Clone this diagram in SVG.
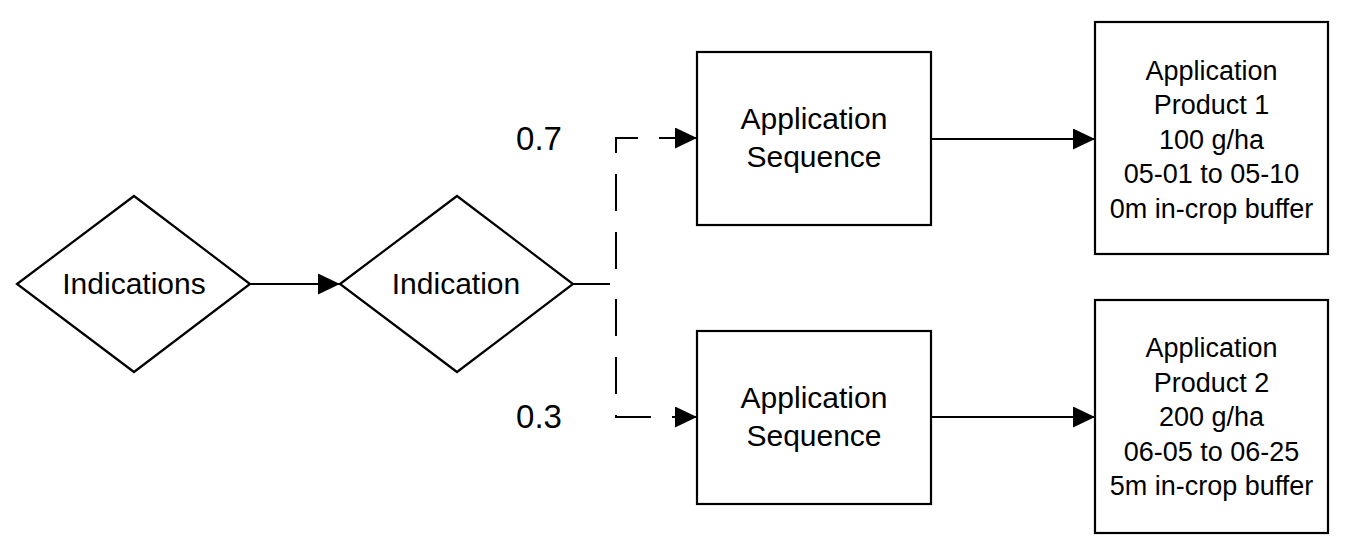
<svg xmlns="http://www.w3.org/2000/svg" width="1351" height="558" viewBox="0 0 1351 558">
  <style>
    .shape { fill: #ffffff; stroke: #000000; stroke-width: 2.2; }
    .line { fill: none; stroke: #000000; stroke-width: 2; }
    .dash { fill: none; stroke: #000000; stroke-width: 2; stroke-dasharray: 37 21; }
    text { font-family: "Liberation Sans", Arial, sans-serif; fill: #000000; text-anchor: middle; }
    .t30 { font-size: 30px; }
    .t27 { font-size: 27px; }
    .t33 { font-size: 33px; }
  </style>
  <defs>
    <marker id="arrow" markerUnits="userSpaceOnUse" markerWidth="22" markerHeight="22" refX="22" refY="10.5" orient="auto">
      <path d="M0,0 L22,10.5 L0,21 Z" fill="#000000"/>
    </marker>
  </defs>
  <rect width="1351" height="558" fill="#ffffff"/>

  <g id="connectors">
    <path class="line" d="M250,284 L340,284" marker-end="url(#arrow)"/>
    <path class="dash" d="M573,284 L616,284 L616,138 L697,138" marker-end="url(#arrow)"/>
    <path class="dash" d="M573,284 L616,284 L616,417 L697,417" marker-end="url(#arrow)"/>
    <path class="line" d="M931,139 L1095,139" marker-end="url(#arrow)"/>
    <path class="line" d="M931,417 L1095,417" marker-end="url(#arrow)"/>
  </g>

  <g id="label-07"><text class="t33" x="539" y="150">0.7</text></g>
  <g id="label-03"><text class="t33" x="539" y="428">0.3</text></g>

  <g id="indications">
    <polygon class="shape" points="17,284 134,196 250,284 134,372"/>
    <text class="t30" x="134" y="294">Indications</text>
  </g>

  <g id="indication">
    <polygon class="shape" points="340,284 457,196 573,284 457,372"/>
    <text class="t30" x="456" y="294">Indication</text>
  </g>

  <g id="sequence1">
    <rect class="shape" x="697" y="52" width="234" height="173"/>
    <text class="t30" x="814" y="129">Application</text>
    <text class="t30" x="814" y="167">Sequence</text>
  </g>

  <g id="sequence2">
    <rect class="shape" x="697" y="331" width="234" height="173"/>
    <text class="t30" x="814" y="408">Application</text>
    <text class="t30" x="814" y="446">Sequence</text>
  </g>

  <g id="product1">
    <rect class="shape" x="1095" y="22" width="233" height="232"/>
    <text class="t27" x="1211.5" y="79.5">Application</text>
    <text class="t27" x="1211.5" y="114">Product 1</text>
    <text class="t27" x="1211.5" y="148.5">100 g/ha</text>
    <text class="t27" x="1211.5" y="183">05-01 to 05-10</text>
    <text class="t27" x="1211.5" y="217.5">0m in-crop buffer</text>
  </g>

  <g id="product2">
    <rect class="shape" x="1095" y="300" width="233" height="233"/>
    <text class="t27" x="1211.5" y="357">Application</text>
    <text class="t27" x="1211.5" y="391.5">Product 2</text>
    <text class="t27" x="1211.5" y="426">200 g/ha</text>
    <text class="t27" x="1211.5" y="460.5">06-05 to 06-25</text>
    <text class="t27" x="1211.5" y="495">5m in-crop buffer</text>
  </g>
</svg>
